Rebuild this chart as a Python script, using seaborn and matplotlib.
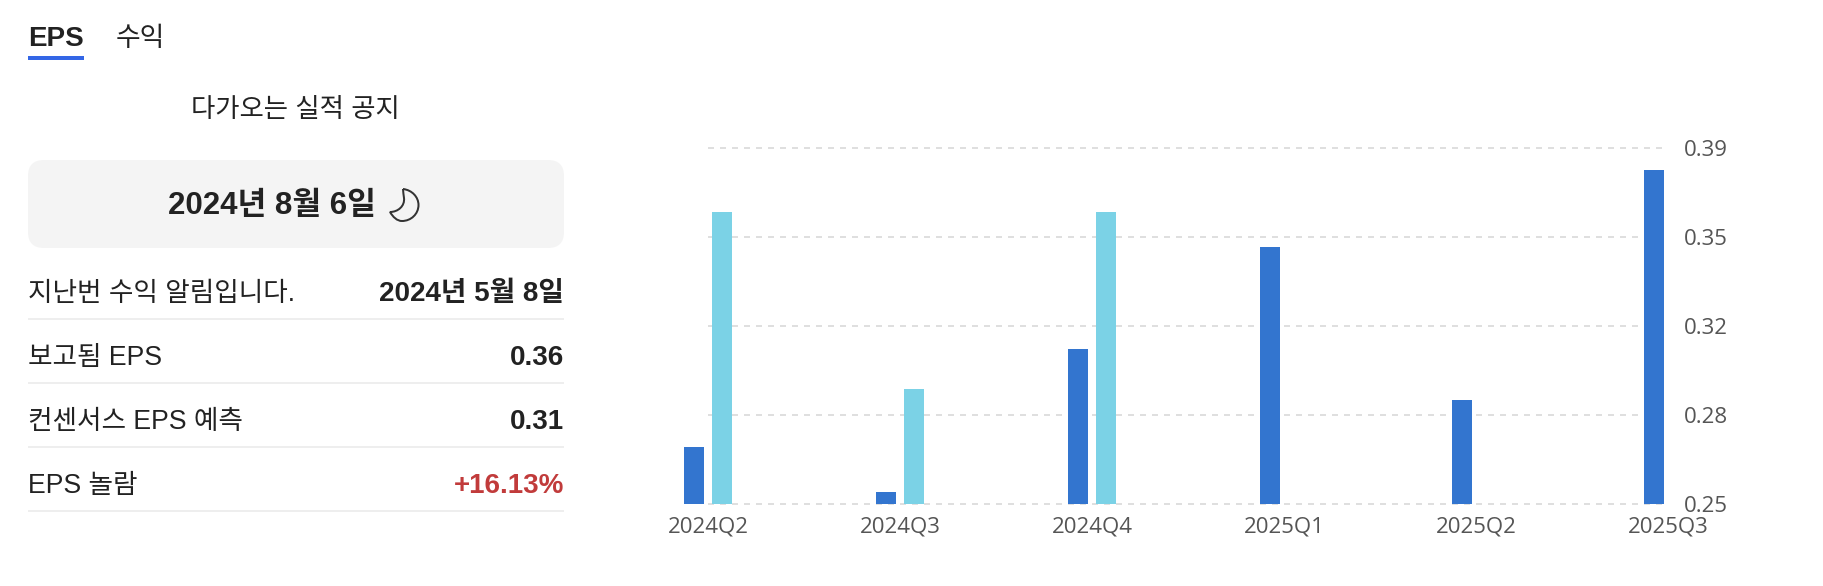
import numpy as np
import pandas as pd
import seaborn as sns
import matplotlib
matplotlib.use("Agg")
import matplotlib.pyplot as plt
from matplotlib.patches import FancyBboxPatch, PathPatch, Rectangle
from matplotlib.path import Path

quarters = ["2024Q2", "2024Q3", "2024Q4", "2025Q1", "2025Q2", "2025Q3"]
actual = [0.2725, 0.2548, 0.3108, 0.3511, 0.291, 0.3815]
estimate = [0.365, 0.2951, 0.365, np.nan, np.nan, np.nan]
y_ticks = [0.25, 0.285, 0.32, 0.355, 0.39]
y_labels = ["0.25", "0.28", "0.32", "0.35", "0.39"]
row_labels = ["지난번 수익 알림입니다.", "보고됨 EPS", "컨센서스 EPS 예측", "EPS 놀람"]
row_values = ["2024년 5월 8일", "0.36", "0.31", "+16.13%"]
row_colors = ["#222222", "#222222", "#222222", "#c13b3b"]

sns.set_theme(style="white")
KR = ["Liberation Sans", "Noto Sans CJK KR"]
plt.rcParams["font.family"] = KR

W, H = 1824, 586
fig = plt.figure(figsize=(W / 100, H / 100), dpi=100, facecolor="white")
PX = 72 / 100

# Chart axes
L, R, T, B = 660, 1680, 148, 504
ax = fig.add_axes([L / W, 1 - B / H, (R - L) / W, (B - T) / H])
df = pd.DataFrame({
    "quarter": quarters * 2,
    "eps": actual + estimate,
    "kind": ["actual"] * 6 + ["estimate"] * 6,
})
sns.barplot(data=df, x="quarter", y="eps", hue="kind", order=quarters,
            palette={"actual": "#3375cf", "estimate": "#7bd2e6"},
            width=56 / 192, gap=8 / 28, legend=False, saturation=1,
            linewidth=0, ax=ax, zorder=3)
ax.set_xlim((L - 708) / 192, (R - 708) / 192)
ax.set_ylim(0.25, 0.39)
ax.hlines(y_ticks, 0, (1662 - 708) / 192, colors="#dfdfdf", lw=2 * PX,
          linestyles=[(0, (3, 3))], zorder=1, clip_on=False)
for s in ax.spines.values():
    s.set_visible(False)
ax.set_xlabel("")
ax.set_ylabel("")
ax.yaxis.tick_right()
ax.set_yticks(y_ticks, y_labels)
ax.tick_params(axis="y", length=0, pad=4 * PX, labelsize=16, labelcolor="#555555", right=False, left=False)
ax.tick_params(axis="x", length=0, pad=13 * PX, labelsize=16, labelcolor="#555555")
for t in ax.get_xticklabels() + ax.get_yticklabels():
    t.set_fontfamily("Open Sans")

# Left panel in pixel coordinates
pn = fig.add_axes([0, 0, 1, 1], zorder=5)
pn.set_xlim(0, W)
pn.set_ylim(H, 0)
pn.axis("off")
pn.patch.set_alpha(0)

TXT = "#222222"
pn.text(28, 39, "EPS", fontsize=20, fontweight="bold", color=TXT, va="center", ha="left")
pn.text(116, 39, "수익", fontsize=19.3, color=TXT, va="center", ha="left")
pn.add_patch(Rectangle((28, 56), 56, 4, color="#3366e6", lw=0))
pn.text(295.5, 110, "다가오는 실적 공지", fontsize=19, color=TXT, va="center", ha="center")
pn.add_patch(FancyBboxPatch((44, 176), 504, 56, boxstyle="round,pad=16,rounding_size=16",
                            fc="#f4f4f4", ec="none"))
pn.text(272, 206, "2024년 8월 6일", fontsize=22.5, fontweight="bold", color=TXT, va="center", ha="center")

# Crescent moon outline
moon = Path([(403, 189),
             (412, 190), (418.5, 197), (418.5, 205),
             (418.5, 214), (411, 221), (402, 221),
             (397, 221), (393, 217), (390, 212),
             (398, 212), (405, 206), (404, 198),
             (403.8, 195), (403, 192), (403, 189)],
            [Path.MOVETO] + [Path.CURVE4] * 15)
pn.add_patch(PathPatch(moon, fc="none", ec="#333333", lw=2 * PX))

row_y = [294, 358, 422, 486]
sep_y = [319, 383, 447, 511]
for lab, val, col, y, sy in zip(row_labels, row_values, row_colors, row_y, sep_y):
    pn.text(28, y, lab, fontsize=19.2, color=TXT, va="center", ha="left")
    pn.text(564, y, val, fontsize=20, fontweight="bold", color=col, va="center", ha="right")
    pn.plot([28, 564], [sy, sy], color="#eeeeee", lw=2 * PX, solid_capstyle="butt")

fig.savefig("out.png", dpi=100, facecolor="white")
